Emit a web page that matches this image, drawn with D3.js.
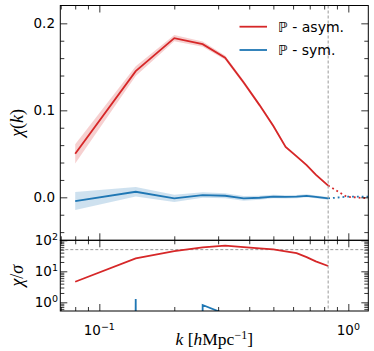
<!DOCTYPE html>
<html>
<head>
<meta charset="utf-8">
<script src="https://cdn.jsdelivr.net/npm/d3@7"></script>
<style>
body { margin: 0; background: #fff; }
text { font-family: "DejaVu Sans", sans-serif; fill: #000; }
.math { font-family: "Liberation Serif", serif; }
.axis path { display: none; }
.axis line { stroke: #000; stroke-width: 0.8; }
</style>
</head>
<body>
<svg id="chart" width="374" height="351"></svg>
<script>
// k bins [h/Mpc]
var kBins = [0.08, 0.14, 0.20, 0.26, 0.32, 0.38, 0.44, 0.50, 0.56, 0.62, 0.68, 0.74, 0.83];

// P - asym.
var asymChi = [0.050, 0.145, 0.183, 0.176, 0.1605, 0.132, 0.106, 0.082, 0.058, 0.047, 0.037, 0.026, 0.0135];
var asymErr = [0.011, 0.0056, 0.0036, 0.003, 0.0024, 0.0022, 0.0019, 0.0016, 0.0014, 0.0013, 0.0013, 0.0012, 0.0009];
var asymSnr = [4.6, 26, 45, 59, 67, 60, 55, 51, 44, 38.6, 28.5, 21, 14.8];

// P - sym.
var symChi = [-0.0043, 0.0064, -0.0012, 0.0026, 0.0018, -0.0012, -0.0005, 0.0009, 0.0005, 0.0008, 0.0017, 0.0005, -0.0012];
var symErr = [0.0103, 0.0055, 0.0042, 0.0032, 0.003, 0.0027, 0.0024, 0.0021, 0.0019, 0.0018, 0.0017, 0.0016, 0.0015];
var symSnr = [-0.42, 1.28, -0.29, 0.82, 0.42, -0.44, -0.21, 0.43, 0.26, 0.44, 0.45, 0.31, -0.8];

// beyond the cut (dotted)
var extK = [0.83, 0.985, 1.2];
var extAsym = [0.0135, 0.0007, -0.0012];
var extSym = [-0.0012, 0.0007, 0.0007];

var kCut = 0.83;
var snrLine = 50;

var xMajor = [0.1, 1];
var xMinor = [0.07, 0.08, 0.09, 0.2, 0.3, 0.4, 0.5, 0.6, 0.7, 0.8, 0.9];
var yTopMajor = [0.0, 0.1, 0.2];
var yTopMinor = [-0.04, -0.02, 0.02, 0.04, 0.06, 0.08, 0.12, 0.14, 0.16, 0.18];
var yBotMajor = [1, 10, 100];
var yBotMinor = [0.6, 0.7, 0.8, 0.9, 2, 3, 4, 5, 6, 7, 8, 9, 20, 30, 40, 50, 60, 70, 80, 90];

var red = "#d62728", blue = "#1f77b4";

var left = 60.3, right = 368.3;
var topT = 5.5, topB = 240.3, botB = 311;

var svg = d3.select("#chart");

var x = d3.scaleLog().domain([0.0697, 1.203]).range([left, right]);
var yT = d3.scaleLinear().domain([-0.0494, 0.2205]).range([topB, topT]);
var yB = d3.scaleLog().domain([0.524, 100]).range([botB, topB]);

// clip paths
var defs = svg.append("defs");
defs.append("clipPath").attr("id", "clipT").append("rect")
    .attr("x", left).attr("y", topT).attr("width", right - left).attr("height", topB - topT);
defs.append("clipPath").attr("id", "clipB").append("rect")
    .attr("x", left).attr("y", topB).attr("width", right - left).attr("height", botB - topB);

var gT = svg.append("g").attr("clip-path", "url(#clipT)");
var gB = svg.append("g").attr("clip-path", "url(#clipB)");

// bands
function band(chi, err) {
    return d3.area()
        .x((d, i) => x(kBins[i]))
        .y0((d, i) => yT(chi[i] - err[i]))
        .y1((d, i) => yT(chi[i] + err[i]))(kBins);
}
gT.append("path").attr("d", band(asymChi, asymErr)).attr("fill", red).attr("fill-opacity", 0.22);
gT.append("path").attr("d", band(symChi, symErr)).attr("fill", blue).attr("fill-opacity", 0.22);

var lineT = d3.line().x(d => x(d[0])).y(d => yT(d[1]));
gT.append("path").attr("d", lineT(d3.zip(kBins, asymChi)))
    .attr("fill", "none").attr("stroke", red).attr("stroke-width", 1.8);
gT.append("path").attr("d", lineT(d3.zip(kBins, symChi)))
    .attr("fill", "none").attr("stroke", blue).attr("stroke-width", 1.8);
gT.append("path").attr("d", lineT(d3.zip(extK, extAsym)))
    .attr("fill", "none").attr("stroke", red).attr("stroke-width", 1.8).attr("stroke-dasharray", "1.8,3");
gT.append("path").attr("d", lineT(d3.zip(extK, extSym)))
    .attr("fill", "none").attr("stroke", blue).attr("stroke-width", 1.8).attr("stroke-dasharray", "1.8,3");

// bottom panel (non-positive values clipped far below, like a log axis does)
var lineB = d3.line().x(d => x(d[0])).y(d => yB(d[1] > 0 ? d[1] : 1e-300));
gB.append("line")
    .attr("x1", left).attr("x2", right).attr("y1", yB(snrLine)).attr("y2", yB(snrLine))
    .attr("stroke", "#999").attr("stroke-width", 1).attr("stroke-dasharray", "3,2");
gB.append("path").attr("d", lineB(d3.zip(kBins, asymSnr)))
    .attr("fill", "none").attr("stroke", red).attr("stroke-width", 1.8);
gB.append("path").attr("d", lineB(d3.zip(kBins, symSnr)))
    .attr("fill", "none").attr("stroke", blue).attr("stroke-width", 1.8);

// vertical cut line through both panels
svg.append("line")
    .attr("x1", x(kCut)).attr("x2", x(kCut)).attr("y1", topT).attr("y2", botB)
    .attr("stroke", "#999").attr("stroke-width", 1).attr("stroke-dasharray", "3,2");

// ticks (all inward)
function ticks(axisFn, scale, vals, size, tx, ty) {
    svg.append("g").attr("class", "axis")
        .attr("transform", `translate(${tx},${ty})`)
        .call(axisFn(scale).tickValues(vals).tickSize(-size).tickFormat(""));
}
[[d3.axisTop, topT], [d3.axisBottom, topB], [d3.axisTop, topB], [d3.axisBottom, botB]].forEach(function(a) {
    ticks(a[0], x, xMajor, 7, 0, a[1]);
    ticks(a[0], x, xMinor, 4, 0, a[1]);
});
ticks(d3.axisLeft, yT, yTopMajor, 7, left, 0);
ticks(d3.axisLeft, yT, yTopMinor, 4, left, 0);
ticks(d3.axisRight, yT, yTopMajor, 7, right, 0);
ticks(d3.axisRight, yT, yTopMinor, 4, right, 0);
ticks(d3.axisLeft, yB, yBotMajor, 7, left, 0);
ticks(d3.axisLeft, yB, yBotMinor, 4, left, 0);
ticks(d3.axisRight, yB, yBotMajor, 7, right, 0);
ticks(d3.axisRight, yB, yBotMinor, 4, right, 0);

// frames
svg.append("rect").attr("x", left).attr("y", topT).attr("width", right - left).attr("height", topB - topT)
    .attr("fill", "none").attr("stroke", "#000").attr("stroke-width", 1);
svg.append("rect").attr("x", left).attr("y", topB).attr("width", right - left).attr("height", botB - topB)
    .attr("fill", "none").attr("stroke", "#000").attr("stroke-width", 1);

// tick labels
svg.selectAll(".ylT").data(yTopMajor).enter().append("text")
    .attr("x", 55).attr("y", d => yT(d) + 5)
    .attr("text-anchor", "end").attr("font-size", 13.5)
    .text(d => d.toFixed(1));

var expLab = {1: "0", 10: "1", 100: "2", 0.1: "\u22121"};
var yl = svg.selectAll(".ylB").data(yBotMajor).enter().append("text")
    .attr("x", 58).attr("y", d => yB(d) + 5)
    .attr("text-anchor", "end").attr("font-size", 13.5);
yl.append("tspan").text("10");
yl.append("tspan").attr("dy", -5).attr("font-size", 9.5).text(d => expLab[d]);

var xl = svg.selectAll(".xlB").data(xMajor).enter().append("text")
    .attr("x", d => x(d)).attr("y", 335)
    .attr("text-anchor", "middle").attr("font-size", 13.5);
xl.append("tspan").text("10");
xl.append("tspan").attr("dy", -5).attr("font-size", 9.5).text(d => expLab[d]);

// axis labels
svg.append("text").attr("class", "math")
    .attr("transform", `translate(23,${(topT + topB) / 2}) rotate(-90)`)
    .attr("text-anchor", "middle").attr("font-size", 18)
    .html('<tspan font-style="italic">χ</tspan>(<tspan font-style="italic">k</tspan>)');
svg.append("text").attr("class", "math")
    .attr("transform", `translate(23,${(topB + botB) / 2}) rotate(-90)`)
    .attr("text-anchor", "middle").attr("font-size", 18)
    .html('<tspan font-style="italic">χ</tspan>/<tspan font-style="italic">σ</tspan>');
svg.append("text").attr("class", "math")
    .attr("x", (left + right) / 2).attr("y", 345)
    .attr("text-anchor", "middle").attr("font-size", 17.5)
    .html('<tspan font-style="italic">k</tspan> [<tspan font-style="italic">h</tspan>Mpc<tspan dy="-6" font-size="12">\u22121</tspan><tspan dy="6">]</tspan>');

// legend
var legend = [["\u2119 - asym.", red, 26.7], ["\u2119 - sym.", blue, 50]];
legend.forEach(function(l) {
    svg.append("line").attr("x1", 239.5).attr("x2", 267).attr("y1", l[2]).attr("y2", l[2])
        .attr("stroke", l[1]).attr("stroke-width", 1.8);
    svg.append("text").attr("x", 278).attr("y", l[2] + 5).attr("font-size", 14).text(l[0]);
});
</script>
</body>
</html>
